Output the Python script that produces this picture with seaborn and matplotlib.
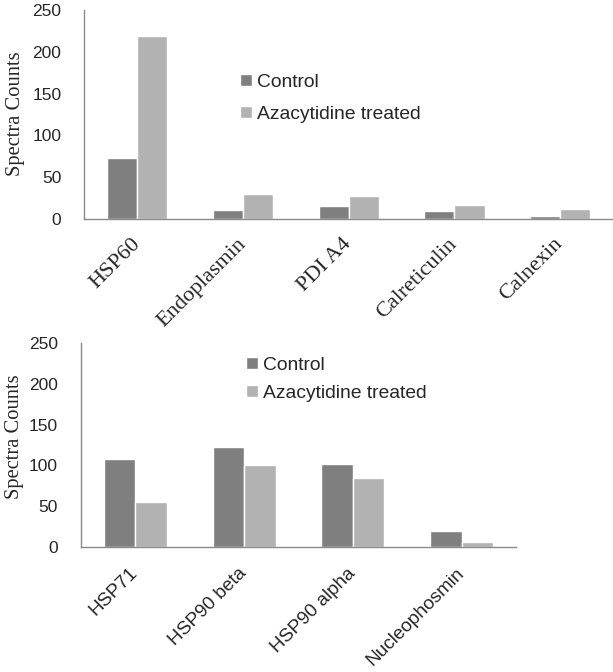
import numpy as np
import pandas as pd
import matplotlib
matplotlib.use("Agg")
import matplotlib.pyplot as plt
import matplotlib.transforms as mtransforms
import seaborn as sns

# ---- data ----
top_categories = ["HSP60", "Endoplasmin", "PDI A4", "Calreticulin", "Calnexin"]
top_control = [73, 11, 16, 10, 3]
top_treated = [219, 30, 27, 17, 12]

bottom_categories = ["HSP71", "HSP90 beta", "HSP90 alpha", "Nucleophosmin"]
bottom_control = [108, 122, 102, 20]
bottom_treated = [55, 101, 84, 6.5]

series_names = ["Control", "Azacytidine treated"]
y_ticks = [0, 50, 100, 150, 200, 250]

sns.set_style("white")
SANS = ["Liberation Sans", "DejaVu Sans"]
SERIF = ["Liberation Serif", "DejaVu Serif"]
plt.rcParams["font.family"] = SANS

colors = ["#7f7f7f", "#b2b2b2"]
axis_col = "#8a8a8a"


def make_df(cats, ctrl, trt):
    return pd.DataFrame({
        "category": cats * 2,
        "value": list(ctrl) + list(trt),
        "series": [series_names[0]] * len(cats) + [series_names[1]] * len(cats),
    })


fig = plt.figure(figsize=(6.13, 6.72), dpi=100)
W, H = 613, 672


def px_axes(left, top, right, bottom):
    return fig.add_axes([left / W, 1 - bottom / H, (right - left) / W, (bottom - top) / H])


def style_axes(ax, cats, xfont, xsize, xpad, xshift, legend_xy, lspacing,
               ylab_x, ylab_y):
    ax.set_ylim(0, 250)
    ax.set_yticks(y_ticks)
    ax.set_xlim(-0.5, len(cats) - 0.5)
    for s in ["top", "right"]:
        ax.spines[s].set_visible(False)
    for s in ["left", "bottom"]:
        ax.spines[s].set_color(axis_col)
        ax.spines[s].set_linewidth(1.0)
    ax.set_xticks(range(len(cats)))
    ax.set_xticklabels(cats, rotation=45, ha="right", va="center",
                       rotation_mode="anchor", family=xfont, fontsize=xsize)
    shift = mtransforms.ScaledTranslation(xshift / 100.0, 0, fig.dpi_scale_trans)
    for lab in ax.get_xticklabels():
        lab.set_transform(lab.get_transform() + shift)
    ax.set_xticks(np.arange(-0.5, len(cats), 1.0), minor=True)
    ax.tick_params(axis="x", which="major", length=0, pad=xpad)
    ax.tick_params(axis="x", which="minor", length=6, color=axis_col, direction="out")
    ax.tick_params(axis="y", length=6, color=axis_col, direction="out",
                   labelsize=12.5, pad=10.5)
    for lab in ax.get_yticklabels():
        lab.set_family(SANS)
    ax.set_xlabel("")
    ax.set_ylabel("Spectra Counts", family=SERIF, fontsize=14.8)
    # place the y label centre in figure pixels
    ax.yaxis.set_label_coords(ylab_x / W, 1 - ylab_y / H, transform=fig.transFigure)
    ax.yaxis.label.set_va("center")
    ax.yaxis.label.set_ha("center")
    handles, labels = ax.get_legend_handles_labels()
    ax.legend(handles, labels, loc="upper left",
              bbox_to_anchor=(legend_xy[0] / W, 1 - legend_xy[1] / H),
              bbox_transform=fig.transFigure, frameon=False,
              handlelength=0.62, handleheight=0.6, handletextpad=0.28,
              labelspacing=lspacing, borderaxespad=0, borderpad=0,
              prop={"family": SANS, "size": 13.9})


# ---- top chart ----
ax1 = px_axes(84.4, 10, 613, 219)
df1 = make_df(top_categories, top_control, top_treated)
sns.barplot(data=df1, x="category", y="value", hue="series", hue_order=series_names,
            palette=colors, width=0.57, gap=0, ax=ax1, saturation=1, errorbar=None)
style_axes(ax1, top_categories, SERIF, 16, 16, 4, (240, 74), 0.77, 15.5, 114)

# ---- bottom chart ----
ax2 = px_axes(81, 343, 516, 547)
df2 = make_df(bottom_categories, bottom_control, bottom_treated)
sns.barplot(data=df2, x="category", y="value", hue="series", hue_order=series_names,
            palette=colors, width=0.58, gap=0, ax=ax2, saturation=1, errorbar=None)
style_axes(ax2, bottom_categories, SANS, 13.7, 17, 5, (246, 357), 0.55, 14.5, 436.5)

fig.savefig("out.png", dpi=100)
